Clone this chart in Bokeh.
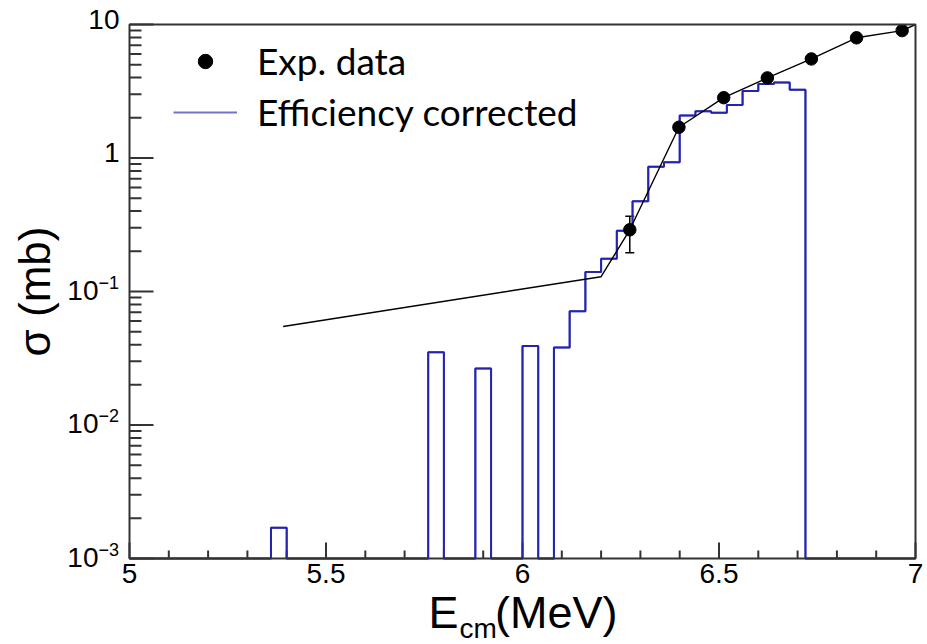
import numpy as np
from bokeh.plotting import figure
from bokeh.models import (ColumnDataSource, Legend, LegendItem, Whisker, TeeHead, Range1d,
                          BoxAnnotation)
from bokeh.embed import file_html
from bokeh.resources import INLINE

# ---------------- data ----------------
# efficiency corrected histogram: non-empty bins (low edge, MeV) and content (mb); bin width 0.04 MeV
hist_lo = [5.36, 5.76, 5.88, 6.00, 6.08, 6.12, 6.16, 6.20, 6.24, 6.28, 6.32, 6.36,
           6.40, 6.44, 6.48, 6.52, 6.56, 6.60, 6.64, 6.68]
hist_val = [0.0017, 0.035, 0.0265, 0.039, 0.038, 0.071, 0.14, 0.176, 0.285, 0.474, 0.86, 0.93,
            2.08, 2.24, 2.18, 2.49, 3.17, 3.59, 3.67, 3.24]
bin_width = 0.04

# black curve (graph line)
curve_x = [5.391, 6.200, 6.273, 6.398, 6.512, 6.623, 6.735, 6.850, 6.966, 7.0]
curve_y = [0.0547, 0.129, 0.29, 1.70, 2.83, 3.98, 5.52, 7.95, 9.0, 10.0]

# experimental data points
exp_x = [6.273, 6.398, 6.512, 6.623, 6.735, 6.850, 6.966]
exp_y = [0.29, 1.70, 2.83, 3.98, 5.52, 7.95, 9.0]
err_x = [6.273]
err_lo = [0.195]
err_hi = [0.366]

x_min, x_max = 5.0, 7.0
y_min, y_max = 1e-3, 10.0
x_major = [5, 5.5, 6, 6.5, 7]
x_labels = ["5", "5.5", "6", "6.5", "7"]
x_minor = [5.1, 5.2, 5.3, 5.4, 5.6, 5.7, 5.8, 5.9, 6.1, 6.2, 6.3, 6.4, 6.6, 6.7, 6.8, 6.9]
y_major = [1e-3, 1e-2, 1e-1, 1, 10]
y_base = ["10", "10", "10", "1", "10"]
y_sup = ["\u22123", "\u22122", "\u22121", "", ""]
y_minor = [m * 10.0 ** e for e in range(-3, 1) for m in range(2, 10)]

legend_labels = ["Exp. data", "Efficiency corrected"]
x_title = ["E", "cm", "(MeV)"]
y_title = "\u03c3 (mb)"

# ---------------- layout (pixels) ----------------
W, H = 927, 644
FL, FR, FT, FB = 129, 915, 24, 558          # plot frame edges in the canvas
XPP = (x_max - x_min) / (FR - FL)           # data units per pixel (x)
DPP = (np.log10(y_max) - np.log10(y_min)) / (FB - FT)   # decades per pixel (y)


def dx(x, px):          # shift x by px pixels (right positive)
    return x + px * XPP


def dy(y, px):          # shift y by px pixels (down positive)
    return y * 10 ** (-px * DPP)


p = figure(width=W, height=H, min_border=0, x_axis_location=None, y_axis_location=None,
           x_range=Range1d(dx(x_min, -FL), dx(x_max, W - FR)),
           y_range=Range1d(dy(y_min, H - FB), dy(y_max, -FT)),
           y_axis_type="log", output_backend="svg", toolbar_location=None)
p.background_fill_color = "white"
p.border_fill_color = "white"
p.outline_line_color = None
p.grid.visible = False

# histogram outline (empty bins drop to the axis minimum)
nb = int(round((x_max - x_min) / bin_width))
full = np.full(nb, y_min)
for lo, v in zip(hist_lo, hist_val):
    full[int(round((lo - x_min) / bin_width))] = v
hx, hy = [], []
for i in range(nb):
    lo = x_min + i * bin_width
    hx += [lo, lo + bin_width]
    hy += [full[i], full[i]]

AX = "#333333"
# x ticks (pointing into the frame)
p.segment(x0=x_major, y0=[y_min] * len(x_major), x1=x_major,
          y1=[dy(y_min, -16)] * len(x_major), line_color=AX, line_width=2)
p.segment(x0=x_minor, y0=[y_min] * len(x_minor), x1=x_minor,
          y1=[dy(y_min, -8)] * len(x_minor), line_color=AX, line_width=2)
# y ticks
p.segment(x0=[x_min] * len(y_major), y0=y_major, x1=[dx(x_min, 24)] * len(y_major),
          y1=y_major, line_color=AX, line_width=2)
p.segment(x0=[x_min] * len(y_minor), y0=y_minor, x1=[dx(x_min, 12)] * len(y_minor),
          y1=y_minor, line_color=AX, line_width=2)

leg_line = p.line(hx, hy, line_color="#7272c6", line_width=2)
hist_r = p.line(hx, hy, line_color="#2424b0", line_width=2)
curve_r = p.line(curve_x, curve_y, line_color="black", line_width=1.4)
pts_r = p.scatter(exp_x, exp_y, size=12.5, color="black")
wsrc = ColumnDataSource(dict(x=err_x, lo=err_lo, hi=err_hi))
p.add_layout(Whisker(source=wsrc, base="x", lower="lo", upper="hi", line_color="black",
                     line_width=1.5,
                     upper_head=TeeHead(size=9, line_color="black", line_width=1.5),
                     lower_head=TeeHead(size=9, line_color="black", line_width=1.5)))

# frame
p.add_layout(BoxAnnotation(left=x_min, right=x_max, bottom=y_min, top=y_max,
                           fill_alpha=0, line_color=AX, line_alpha=1.0, line_width=2))

FONT = {"value": "Liberation Sans"}
# x tick labels
p.text(x=x_major, y=[dy(y_min, 5)] * len(x_major), text=x_labels, text_align="center",
       text_baseline="top", text_font=FONT, text_font_size="28px", text_color="black")

# y tick labels
for v, b, s in zip(y_major, y_base, y_sup):
    if s:
        p.text(x=[dx(x_min, -31)], y=[dy(v, -11)], text=[b], text_align="right",
               text_baseline="top", text_font=FONT, text_font_size="28px", text_color="black")
        p.text(x=[dx(x_min, -31)], y=[dy(v, -16)], text=[s], text_align="left",
               text_baseline="top", text_font=FONT, text_font_size="18px", text_color="black")
    else:
        p.text(x=[dx(x_min, -10)], y=[dy(v, -15)], text=[b], text_align="right",
               text_baseline="top", text_font=FONT, text_font_size="28px", text_color="black")

# axis titles
p.text(x=[dx(x_min, -95)], y=[10 ** ((np.log10(y_min) + np.log10(y_max)) / 2)], text=[y_title],
       angle=np.pi / 2, text_align="center", text_baseline="middle",
       text_font=FONT, text_font_size="44px", text_color="black")
xc = (x_min + x_max) / 2
p.text(x=[dx(xc, -94)], y=[dy(y_min, 28)], text=[x_title[0]], text_align="left",
       text_baseline="top", text_font=FONT, text_font_size="45px", text_color="black")
p.text(x=[dx(xc, -63)], y=[dy(y_min, 54)], text=[x_title[1]], text_align="left",
       text_baseline="top", text_font=FONT, text_font_size="28px", text_color="black")
p.text(x=[dx(xc, 95)], y=[dy(y_min, 28)], text=[x_title[2]], text_align="right",
       text_baseline="top", text_font=FONT, text_font_size="45px", text_color="black")

legend = Legend(items=[LegendItem(label=legend_labels[0], renderers=[pts_r]),
                       LegendItem(label=legend_labels[1], renderers=[leg_line])],
                location=(44 + FL, 424 + (H - FB)), glyph_width=64, glyph_height=36,
                label_standoff=20, label_text_font="Lato", label_text_font_size="37px",
                label_text_color="black", spacing=6, padding=0, margin=0,
                border_line_alpha=0, background_fill_alpha=0)
p.add_layout(legend)

open("out.html", "w").write(file_html(p, INLINE))
